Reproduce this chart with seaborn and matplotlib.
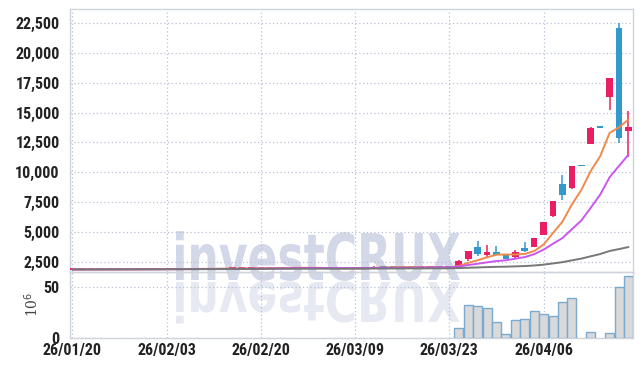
import numpy as np
import pandas as pd
import matplotlib
matplotlib.use("Agg")
import matplotlib.pyplot as plt
import seaborn as sns
from matplotlib.textpath import TextPath
from matplotlib.font_manager import FontProperties, fontManager
from matplotlib.patches import PathPatch
from matplotlib.transforms import Affine2D

# ---------------- data ----------------
dates = ["26/01/20", "26/01/21", "26/01/22", "26/01/23", "26/01/26", "26/01/27", "26/01/28",
         "26/01/29", "26/01/30", "26/02/02", "26/02/03", "26/02/04", "26/02/05", "26/02/06",
         "26/02/09", "26/02/10", "26/02/11", "26/02/12", "26/02/13", "26/02/19", "26/02/20",
         "26/02/23", "26/02/24", "26/02/25", "26/02/26", "26/02/27", "26/03/03", "26/03/04",
         "26/03/05", "26/03/06", "26/03/09", "26/03/10", "26/03/11", "26/03/12", "26/03/13",
         "26/03/16", "26/03/17", "26/03/18", "26/03/19", "26/03/20", "26/03/23", "26/03/24",
         "26/03/25", "26/03/26", "26/03/27", "26/03/30", "26/03/31", "26/04/01", "26/04/02",
         "26/04/03", "26/04/06", "26/04/07", "26/04/08", "26/04/09", "26/04/10", "26/04/13",
         "26/04/14", "26/04/15", "26/04/16", "26/04/17"]

open_ = [1885, 1890, 1895, 1900, 1898, 1905, 1910, 1908, 1915, 1920, 1925, 1930, 1935, 1940,
         1950, 1955, 1960, 1970, 1980, 1990, 2000, 2020, 2030, 2040, 2035, 2030, 2025, 2010,
         1900, 1960, 1990, 2010, 2040, 2120, 2100, 2090, 2080, 2070, 2060, 2070, 2060,
         2030, 2730, 3755, 3090, 3310, 3144, 2893, 3670, 3755, 4793, 6324, 9030, 8692,
         10567, 12408, 13747, 16307, 22055, 13496]
close = [1890, 1895, 1900, 1898, 1905, 1910, 1908, 1915, 1920, 1925, 1930, 1935, 1940, 1950,
         1955, 1960, 1970, 1980, 1990, 2000, 2020, 2030, 2040, 2035, 2030, 2025, 2020, 1930,
         1960, 1990, 2010, 2040, 2120, 2100, 2090, 2080, 2070, 2060, 2070, 2060, 2050,
         2640, 3400, 3144, 3310, 3120, 2751, 3370, 3400, 4508, 5822, 7606, 8110, 10567,
         10567, 13747, 13747, 17847, 12910, 13830]
high = [1900, 1905, 1910, 1910, 1915, 1920, 1920, 1925, 1930, 1935, 1940, 1945, 1950, 1960,
        1965, 1970, 1980, 1990, 2000, 2010, 2030, 2045, 2055, 2050, 2045, 2040, 2035, 2020,
        1970, 2000, 2020, 2050, 2140, 2130, 2110, 2095, 2085, 2075, 2080, 2075, 2070,
        2660, 3400, 4232, 3897, 3814, 3160, 3479, 4149, 4520, 5840, 7620, 9814, 10567,
        10567, 13760, 13747, 17860, 22499, 15136]
low = [1875, 1880, 1885, 1890, 1890, 1895, 1900, 1900, 1905, 1910, 1915, 1920, 1925, 1930,
       1940, 1945, 1950, 1960, 1970, 1980, 1990, 2010, 2020, 2025, 2020, 2015, 2010, 1920,
       1890, 1950, 1980, 2000, 2030, 2090, 2080, 2070, 2060, 2050, 2050, 2050, 2040,
       2020, 2584, 2977, 2918, 3100, 2740, 2880, 3390, 3740, 4780, 6240, 7663, 8583,
       10567, 12400, 13747, 15194, 12491, 11286]
volume = [0, 0, 0, 0, 0, 0, 0, 0, 0, 0, 0, 0, 0, 0, 0, 0, 0, 0, 0, 0,
          0, 0, 0, 0, 0, 0, 0, 0, 0, 0, 0, 0, 0, 0, 0, 0, 0, 0, 0, 0, 0,
          9.9, 32.3, 31.3, 29.3, 15.0, 3.8, 17.0, 18.0, 26.2, 23.5, 21.0, 35.4, 39.5,
          0, 5.8, 0, 4.8, 49.7, 61.0]
tick_labels = ["26/01/20", "26/02/03", "26/02/20", "26/03/09", "26/03/23", "26/04/06"]
price_ticks = [2500, 5000, 7500, 10000, 12500, 15000, 17500, 20000, 22500]
vol_ticks = [0, 50]

UP = "#e91e63"
DOWN = "#3399cc"

df = pd.DataFrame({"date": dates, "open": open_, "close": close, "high": high,
                   "low": low, "volume": volume})
df["day"] = np.arange(len(df))
df["ma5"] = df["close"].rolling(5, min_periods=1).mean()
df["ma10"] = df["close"].rolling(10, min_periods=1).mean()
df["ma60"] = df["close"].rolling(60, min_periods=1).mean()

sns.set_theme(style="white")
installed = {f.name for f in fontManager.ttflist}
cands = ["Roboto Condensed", "Liberation Sans Narrow", "DejaVu Sans Condensed", "Roboto"]
tick_family = next((c for c in cands if c in installed), "DejaVu Sans")
plt.rcParams["font.family"] = [tick_family, "DejaVu Sans"]
narrow = tick_family in ("Roboto Condensed", "Liberation Sans Narrow", "DejaVu Sans Condensed")
tsize = 11.5 if narrow else 9.5

W, H = 642, 366
fig = plt.figure(figsize=(W / 100, H / 100), dpi=100)
fig.patch.set_facecolor("white")

L, R = 69.5 / W, 632.7 / W
ax = fig.add_axes([L, 1 - 272 / H, R - L, (272 - 9.3) / H])
axv = fig.add_axes([L, 1 - 337.7 / H, R - L, (337.7 - 272) / H], sharex=ax)
for a in (ax, axv):
    a.set_facecolor("none")
    for s in a.spines.values():
        s.set_color("#cfd3dc")
        s.set_linewidth(1)
    a.grid(True, color="#b8c0d6", linestyle=(0, (1, 2)), linewidth=0.9)
    a.set_axisbelow(True)

# watermark
fp = FontProperties(family="DejaVu Sans", weight="bold")
tp = TextPath((0, 0), "investCRUX", size=1, prop=fp)
ext = tp.get_extents()
sx = 284 / ext.width
sy = 47 / 0.73
base = H - 280
to_fig = Affine2D().scale(1 / W, 1 / H) + fig.transFigure
tr1 = Affine2D().translate(-ext.x0, 0).scale(sx, sy).translate(176, base) + to_fig
tr2 = Affine2D().translate(-ext.x0, 0).scale(sx, -sy * 0.85).translate(176, base - 2) + to_fig
fig.patches.append(PathPatch(tp, transform=tr1, facecolor="#d3d8e8", edgecolor="none", zorder=-5))
fig.patches.append(PathPatch(tp, transform=tr2, facecolor="#e6e9f2", edgecolor="none", zorder=-5))

# candles
for _, r in df.iterrows():
    col = UP if r["close"] > r["open"] else DOWN
    ax.vlines(r["day"], r["low"], r["high"], color=col, lw=1.1, zorder=3)
    lo = min(r["open"], r["close"])
    h = max(abs(r["close"] - r["open"]), 90)
    ax.bar(r["day"], h, bottom=lo, width=0.7, color=col, edgecolor="none", zorder=4)

sns.lineplot(data=df, x="day", y="ma5", ax=ax, color="#f08a4b", lw=1.4, zorder=5)
sns.lineplot(data=df, x="day", y="ma10", ax=ax, color="#cc55ee", lw=1.4, zorder=5)
sns.lineplot(data=df, x="day", y="ma60", ax=ax, color="#777777", lw=1.4, zorder=5)

ax.set_ylim(1680, 23621)
ax.set_yticks(price_ticks)
ax.set_yticklabels([f"{v:,}" for v in price_ticks])
ax.set_xlim(-0.3, 59.45)
ax.set_xticks([dates.index(t) for t in tick_labels])
ax.tick_params(axis="x", labelbottom=False, length=0)
ax.tick_params(axis="y", length=0, pad=7, labelsize=tsize, labelcolor="#222222")
ax.set_xlabel("")
ax.set_ylabel("")

vdf = df[df["volume"] > 0]
sns.barplot(data=vdf, x="day", y="volume", ax=axv, native_scale=True, color="#d9d9d9",
            edgecolor="#7aaad0", linewidth=1.0, width=0.95, saturation=1, zorder=3)
axv.set_ylim(0, 64.8)
axv.set_yticks(vol_ticks)
axv.set_xlim(-0.3, 59.45)
axv.set_xticks([dates.index(t) for t in tick_labels])
axv.set_xticklabels(tick_labels)
axv.tick_params(axis="x", length=0, pad=4, labelsize=tsize, labelcolor="#222222")
axv.tick_params(axis="y", length=0, pad=7, labelsize=tsize, labelcolor="#222222")
axv.set_xlabel("")
axv.set_ylabel("10$^6$", fontsize=10, color="#444444", family="DejaVu Serif", labelpad=2)
for lab in ax.get_yticklabels() + axv.get_yticklabels() + axv.get_xticklabels():
    lab.set_fontweight("bold")

fig.savefig("out.png", dpi=100)
